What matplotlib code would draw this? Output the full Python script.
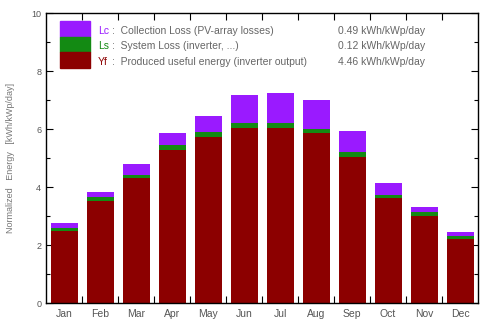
import numpy as np
import matplotlib.pyplot as plt
from matplotlib.patches import Rectangle
from matplotlib.ticker import FixedLocator, MultipleLocator

plt.rcParams['font.family'] = ['Liberation Sans', 'DejaVu Sans']

months = ["Jan", "Feb", "Mar", "Apr", "May", "Jun",
          "Jul", "Aug", "Sep", "Oct", "Nov", "Dec"]
# kWh/kWp/day
yf = [2.49, 3.53, 4.32, 5.28, 5.72, 6.05, 6.05, 5.85, 5.04, 3.61, 3.00, 2.20]
ls = [0.10, 0.12, 0.09, 0.17, 0.18, 0.15, 0.15, 0.14, 0.18, 0.11, 0.13, 0.11]
lc = [0.17, 0.17, 0.37, 0.41, 0.55, 0.97, 1.05, 1.00, 0.71, 0.42, 0.17, 0.15]

legend_names = ["Lc", "Ls", "Yf"]
legend_texts = [":  Collection Loss (PV-array losses)",
                ":  System Loss (inverter, ...)",
                ":  Produced useful energy (inverter output)"]
legend_values = ["0.49 kWh/kWp/day", "0.12 kWh/kWp/day", "4.46 kWh/kWp/day"]

c_lc = "#9a1aff"
c_ls = "#138a13"
c_yf = "#8c0000"
txt = "#666666"

fig = plt.figure(figsize=(4.8, 3.2), dpi=100)
ax = fig.add_axes([0.096, 0.053, 0.9, 0.906])

x = np.arange(len(months))
yf_a = np.array(yf)
ls_a = np.array(ls)
lc_a = np.array(lc)
ax.bar(x, yf_a, width=0.75, color=c_yf, zorder=2)
ax.bar(x, ls_a, width=0.75, bottom=yf_a, color=c_ls, zorder=2)
ax.bar(x, lc_a, width=0.75, bottom=yf_a + ls_a, color=c_lc, zorder=2)

ax.set_xlim(-0.5, 11.5)
ax.set_ylim(0, 10)

ax.set_xticks(x)
ax.set_xticklabels(months, fontsize=7.5, color="#555555")
ax.tick_params(axis="x", which="major", length=0, pad=4)
ax.xaxis.set_minor_locator(FixedLocator(x[:-1] + 0.5))
ax.tick_params(axis="x", which="minor", direction="in", length=5,
               top=True, bottom=True, width=0.8)

ax.yaxis.set_major_locator(MultipleLocator(2))
ax.yaxis.set_minor_locator(MultipleLocator(1))
ax.tick_params(axis="y", which="both", direction="in", left=True, right=True,
               labelsize=6.5, labelcolor="#555555", width=0.8)
ax.tick_params(axis="y", which="major", length=5)
ax.tick_params(axis="y", which="minor", length=3)

ax.set_ylabel("Normalized   Energy   [kWh/kWp/day]", fontsize=6.5,
              color="#777777", labelpad=12)

for s in ax.spines.values():
    s.set_linewidth(1.0)

# legend block
ax.add_patch(Rectangle((0.032, 0.917), 0.07, 0.055, transform=ax.transAxes,
                       color=c_lc, zorder=3))
ax.add_patch(Rectangle((0.032, 0.866), 0.07, 0.051, transform=ax.transAxes,
                       color=c_ls, zorder=3))
ax.add_patch(Rectangle((0.032, 0.810), 0.07, 0.056, transform=ax.transAxes,
                       color=c_yf, zorder=3))

rows = [0.938, 0.885, 0.832]
colors = [c_lc, c_ls, c_yf]
for name, desc, val, yy, col in zip(legend_names, legend_texts, legend_values,
                                    rows, colors):
    ax.text(0.120, yy, name, transform=ax.transAxes, fontsize=7.5, color=col,
            va="center")
    ax.text(0.152, yy, desc, transform=ax.transAxes, fontsize=7.5, color=txt,
            va="center")
    ax.text(0.877, yy, val, transform=ax.transAxes, fontsize=7.5, color=txt,
            va="center", ha="right")

fig.savefig("out.png", dpi=100)
